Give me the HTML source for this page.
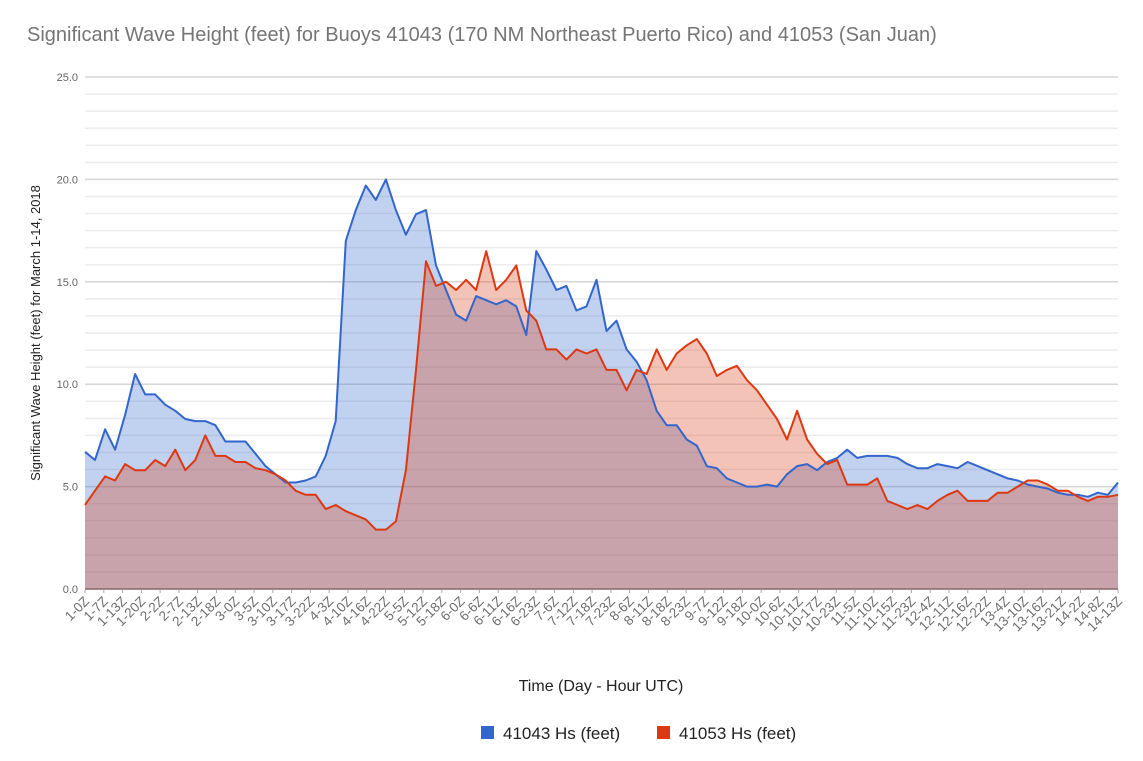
<!DOCTYPE html>
<html><head><meta charset="utf-8"><style>
body{margin:0;background:#fff;font-family:"Liberation Sans",Arial,sans-serif}
svg text{font-family:"Liberation Sans",Arial,sans-serif}
</style></head><body>
<svg id="chart" width="1143" height="756" xmlns="http://www.w3.org/2000/svg">
<text x="27" y="41" font-size="20" fill="#757575">Significant Wave Height (feet) for Buoys 41043 (170 NM Northeast Puerto Rico) and 41053 (San Juan)</text>
<g id="grid"></g>
<g id="areas"></g>
<g id="yticks"></g>
<g id="xticks"></g>
<text transform="translate(40,333) rotate(-90)" text-anchor="middle" font-size="13" fill="#222">Significant Wave Height (feet) for March 1-14, 2018</text>
<text x="601" y="691" text-anchor="middle" font-size="16" fill="#222">Time (Day - Hour UTC)</text>
<g>
<rect x="481" y="726" width="13" height="13" fill="#3366cc"/>
<text x="503" y="739" font-size="17" fill="#222">41043 Hs (feet)</text></g>
<g>
<rect x="657" y="726" width="13" height="13" fill="#dc3912"/>
<text x="679" y="739" font-size="17" fill="#222">41053 Hs (feet)</text></g>
</svg>
<script>
const xLabels=["1-0Z","1-7Z","1-13Z","1-20Z","2-2Z","2-7Z","2-13Z","2-18Z","3-0Z","3-5Z","3-10Z","3-17Z","3-22Z","4-3Z","4-10Z","4-16Z","4-22Z","5-5Z","5-12Z","5-18Z","6-0Z","6-6Z","6-11Z","6-16Z","6-23Z","7-6Z","7-12Z","7-18Z","7-23Z","8-6Z","8-11Z","8-18Z","8-23Z","9-7Z","9-12Z","9-18Z","10-0Z","10-6Z","10-11Z","10-17Z","10-23Z","11-5Z","11-10Z","11-15Z","11-23Z","12-4Z","12-11Z","12-16Z","12-22Z","13-4Z","13-10Z","13-16Z","13-21Z","14-2Z","14-8Z","14-13Z"];
const yTicks=[0,5,10,15,20,25];
const buoy41043=[6.7,6.3,7.8,6.8,8.5,10.5,9.5,9.5,9.0,8.7,8.3,8.2,8.2,8.0,7.2,7.2,7.2,6.6,6.0,5.6,5.2,5.2,5.3,5.5,6.5,8.2,17,18.5,19.7,19.0,20.0,18.5,17.3,18.3,18.5,15.8,14.6,13.4,13.1,14.3,14.1,13.9,14.1,13.8,12.4,16.5,15.6,14.6,14.8,13.6,13.8,15.1,12.6,13.1,11.7,11.1,10.2,8.7,8.0,8.0,7.3,7.0,6.0,5.9,5.4,5.2,5.0,5.0,5.1,5.0,5.6,6.0,6.1,5.8,6.2,6.4,6.8,6.4,6.5,6.5,6.5,6.4,6.1,5.9,5.9,6.1,6.0,5.9,6.2,6.0,5.8,5.6,5.4,5.3,5.1,5.0,4.9,4.7,4.6,4.6,4.5,4.7,4.6,5.2];
const buoy41053=[4.1,4.8,5.5,5.3,6.1,5.8,5.8,6.3,6.0,6.8,5.8,6.3,7.5,6.5,6.5,6.2,6.2,5.9,5.8,5.6,5.3,4.8,4.6,4.6,3.9,4.1,3.8,3.6,3.4,2.9,2.9,3.3,5.8,10.7,16.0,14.8,15.0,14.6,15.1,14.6,16.5,14.6,15.1,15.8,13.6,13.1,11.7,11.7,11.2,11.7,11.5,11.7,10.7,10.7,9.7,10.7,10.5,11.7,10.7,11.5,11.9,12.2,11.5,10.4,10.7,10.9,10.2,9.7,9.0,8.3,7.3,8.7,7.3,6.6,6.1,6.3,5.1,5.1,5.1,5.4,4.3,4.1,3.9,4.1,3.9,4.3,4.6,4.8,4.3,4.3,4.3,4.7,4.7,5.0,5.3,5.3,5.1,4.8,4.8,4.5,4.3,4.5,4.5,4.6];
const NS="http://www.w3.org/2000/svg";
const X0=85,X1=1118,Y0=589,Y1=77,YMAX=25;
const yS=v=>Y0-(v/YMAX)*(Y0-Y1);
const xS=(i,n)=>X0+i/(n-1)*(X1-X0);
function mk(t,a){const e=document.createElementNS(NS,t);for(const k in a)e.setAttribute(k,a[k]);return e;}
const grid=document.getElementById('grid');
for(let k=0;k<=30;k++){const v=k*YMAX/30;const major=k%6===0;
const l=mk('line',{x1:X0,x2:X1,y1:yS(v),y2:yS(v),stroke:major?'#d6d6d6':'#ececec','stroke-width':1.5});


grid.appendChild(l);}
const yt=document.getElementById('yticks');
yTicks.forEach(v=>{const t=mk('text',{x:78,y:yS(v)+4,'text-anchor':'end','font-size':11,fill:'#666'});t.textContent=v.toFixed(1);


yt.appendChild(t);});
const xt=document.getElementById('xticks');
xLabels.forEach((s,i)=>{const x=X0+i/(xLabels.length-1)*(X1-X0);
const tk=mk('line',{x1:x,x2:x,y1:Y0+1,y2:Y0+4,stroke:'#aaa'});


xt.appendChild(tk);
const t=mk('text',{transform:`translate(${x+5},${Y0+13}) rotate(-45)`,'text-anchor':'end','font-size':13.5,fill:'#6f6f6f'});t.textContent=s;


xt.appendChild(t);});
const areas=document.getElementById('areas');
function series(vals,col,name){const n=vals.length;let d='';vals.forEach((v,i)=>{d+=(i?'L':'M')+xS(i,n).toFixed(1)+','+yS(v).toFixed(1);});
const a=mk('path',{d:d+`L${X1},${Y0}L${X0},${Y0}Z`,fill:col,'fill-opacity':0.3});


areas.appendChild(a);
return d;}
const d1=series(buoy41043,'#3366cc','buoy-41043');
const d2=series(buoy41053,'#dc3912','buoy-41053');
const l1=mk('path',{d:d1,fill:'none',stroke:'#3366cc','stroke-width':2,'stroke-linejoin':'round'});


areas.appendChild(l1);
const l2=mk('path',{d:d2,fill:'none',stroke:'#dc3912','stroke-width':2,'stroke-linejoin':'round'});


areas.appendChild(l2);
const base=mk('line',{x1:X0,x2:X1,y1:Y0,y2:Y0,stroke:'#8a6b70','stroke-width':1.5});


areas.appendChild(base);
</script>
</body></html>
